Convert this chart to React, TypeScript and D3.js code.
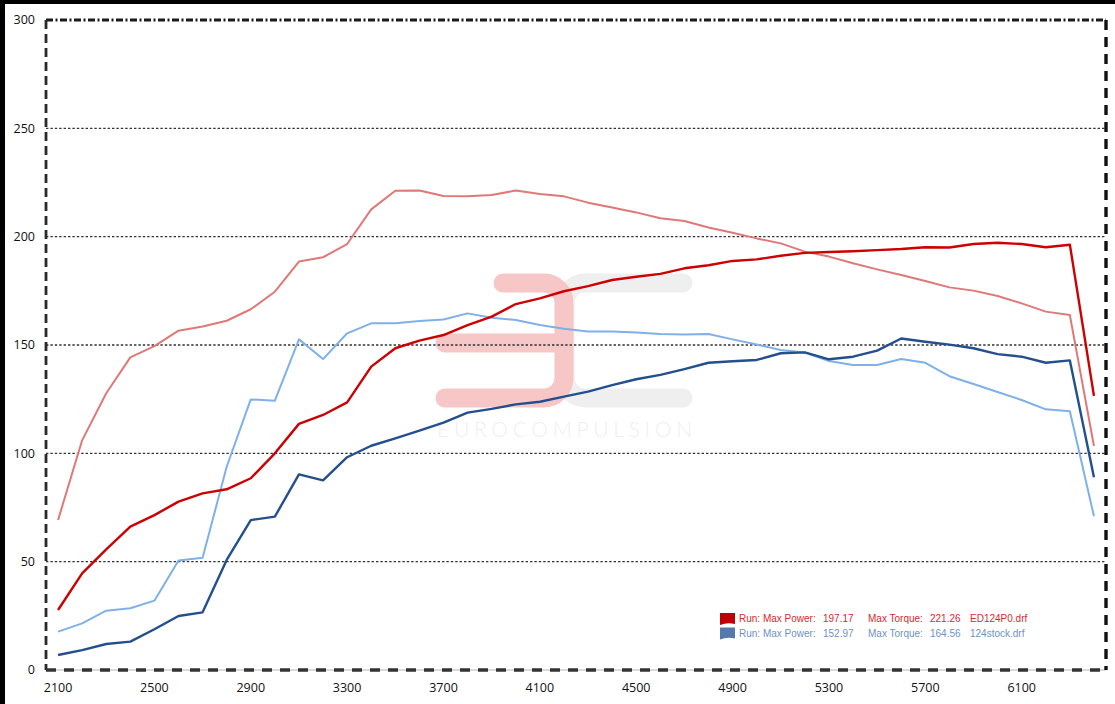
import React from 'react';
import * as d3 from 'd3';

// rpm categories (one point per 100 rpm)
const rpm = [
  2100, 2200, 2300, 2400, 2500, 2600, 2700, 2800, 2900, 3000,
  3100, 3200, 3300, 3400, 3500, 3600, 3700, 3800, 3900, 4000,
  4100, 4200, 4300, 4400, 4500, 4600, 4700, 4800, 4900, 5000,
  5100, 5200, 5300, 5400, 5500, 5600, 5700, 5800, 5900, 6000,
  6100, 6200, 6300, 6400,
];

const xTickLabels = [2100, 2500, 2900, 3300, 3700, 4100, 4500, 4900, 5300, 5700, 6100];
const yTickLabels = [0, 50, 100, 150, 200, 250, 300];

// ED124P0.drf
const powerTuned = [
  27.7, 44.6, 55.7, 66.2, 71.5, 77.7, 81.5, 83.4, 88.5, 100,
  113.6, 117.7, 123.5, 140, 148.5, 152, 154.6, 159.2, 163.1, 168.9,
  171.5, 174.8, 177.2, 180, 181.5, 182.8, 185.4, 186.8, 188.8, 189.5,
  191.2, 192.5, 192.9, 193.3, 193.8, 194.3, 195.1, 195, 196.6, 197.2,
  196.6, 195.1, 196.3, 126.5,
];
const torqueTuned = [
  69.2, 106, 127.7, 144.3, 149.5, 156.6, 158.5, 161.2, 166.5, 174.6,
  188.5, 190.5, 196.6, 212.6, 221.2, 221.3, 218.8, 218.6, 219.2, 221.3,
  219.7, 218.6, 215.7, 213.5, 211.2, 208.5, 207.2, 204.2, 201.8, 199.2,
  196.9, 193.1, 190.8, 187.7, 184.9, 182.3, 179.5, 176.6, 175.1, 172.6,
  169.2, 165.4, 163.8, 103.4,
];

// 124stock.drf
const powerStock = [
  6.9, 9.2, 12, 13.1, 18.8, 24.9, 26.6, 50.8, 69.2, 70.8,
  90.3, 87.5, 98.2, 103.5, 106.9, 110.5, 114.2, 118.8, 120.5, 122.6,
  123.8, 126.2, 128.5, 131.5, 134.2, 136.2, 138.9, 141.8, 142.5, 143.1,
  146.2, 146.6, 143.4, 144.6, 147.4, 153, 151.5, 150.2, 148.5, 145.8,
  144.6, 141.8, 142.9, 89,
];
const torqueStock = [
  17.7, 21.5, 27.4, 28.5, 32, 50.5, 51.8, 93.8, 124.9, 124.3,
  152.6, 143.5, 155.4, 160, 160, 161.1, 161.8, 164.6, 162.6, 161.5,
  159.2, 157.5, 156.2, 156.2, 155.8, 155.1, 154.9, 155.1, 152.6, 150.2,
  147.7, 146.5, 142.6, 140.8, 140.8, 143.5, 141.8, 135.6, 132, 128.3,
  124.6, 120.3, 119.4, 71,
];

const series = [
  { name: 'torqueTuned', values: torqueTuned, color: '#e07878', width: 2 },
  { name: 'torqueStock', values: torqueStock, color: '#7fb0ea', width: 2 },
  { name: 'powerStock', values: powerStock, color: '#234f8e', width: 2.4 },
  { name: 'powerTuned', values: powerTuned, color: '#cc0000', width: 2.4 },
];

const legendRows = [
  { power: '197.17', torque: '221.26', file: 'ED124P0.drf', swatch: '#c00000', text: '#d9282e' },
  { power: '152.97', torque: '164.56', file: '124stock.drf', swatch: '#5679ad', text: '#6f92c6' },
];

const W = 1115;
const H = 704;
const left = 46, right = 1106, top = 20, bottom = 670;

export default function App() {
  const x = d3.scaleBand<number>().domain(rpm).range([left, right]);
  const cx = (r: number) => (x(r) as number) + x.bandwidth() / 2;
  const y = d3.scaleLinear().domain([0, 300]).range([bottom, top]);

  const line = d3.line<number>()
    .x((_, i) => cx(rpm[i]))
    .y(d => y(d));

  const font = '"Open Sans", "Noto Sans", sans-serif';

  return (
    <svg width={W} height={H} style={{ position: 'fixed', left: 0, top: 0, background: '#fff' }}>
      <rect x={0} y={0} width={W} height={H} fill="#fff" />
      {/* outer black edge */}
      <rect x={0} y={0} width={W} height={4} fill="#000" />
      <rect x={0} y={0} width={5} height={H} fill="#000" />

      {/* watermark */}
      <g fill="none" strokeLinecap="round">
        <path d="M683,283 H585 A20,20 0 0 0 565,303 V378 A20,20 0 0 0 585,398 H683" stroke="#efefef" strokeWidth={19} />
        <path d="M503,283 H544 A20,20 0 0 1 564,303 V378 A20,20 0 0 1 544,398 H445 M445,343 H562" stroke="#f7c7c7" strokeWidth={19} />
      </g>
      <text x={437} y={437} fontFamily="Lato, sans-serif" fontWeight={300} fontSize={21}
        fill="#efefef" textLength={255} lengthAdjust="spacing">EUROCOMPULSION</text>

      {/* grid */}
      {yTickLabels.filter(t => t > 0 && t < 300).map(t => (
        <line key={t} x1={left} x2={right} y1={y(t)} y2={y(t)}
          stroke="#333" strokeWidth={1.4} strokeDasharray="2.4,2" />
      ))}

      {/* series */}
      {series.map(s => (
        <path key={s.name} d={line(s.values) as string} fill="none"
          stroke={s.color} strokeWidth={s.width} strokeLinejoin="round" />
      ))}

      {/* plot frame */}
      <line x1={left} x2={right} y1={top} y2={top} stroke="#1a1a1a" strokeWidth={2.8} strokeDasharray="7,2.5,2,2.5" />
      <line x1={left} x2={left} y1={top} y2={bottom} stroke="#2a2a2a" strokeWidth={2.8} strokeDasharray="9,5" />
      <line x1={left} x2={right} y1={bottom} y2={bottom} stroke="#b5b5b5" strokeWidth={1} />
      <line x1={left} x2={right} y1={bottom} y2={bottom} stroke="#333" strokeWidth={3.6} strokeDasharray="10,8" />
      <line x1={right} x2={right} y1={top} y2={bottom} stroke="#111" strokeWidth={3.4} strokeDasharray="10,7" />

      {/* y axis labels */}
      {yTickLabels.map(t => (
        <text key={t} x={35} y={y(t)} dy="0.35em" textAnchor="end" fontFamily={font}
          fontSize={12.5} fill="#111">{t}</text>
      ))}

      {/* x axis labels */}
      {xTickLabels.map(t => (
        <text key={t} x={cx(t)} y={688} dy="0.35em" textAnchor="middle" fontFamily={font}
          fontSize={12.5} fill="#111">{t}</text>
      ))}

      {/* legend */}
      {legendRows.map((r, i) => {
        const yb = 622 + i * 14.5;
        return (
          <g key={r.file} fontFamily='"Liberation Sans", Arial, sans-serif' fontSize={10} fill={r.text}>
            <path d={`M720,${yb - 9} H735 V${yb + 2} Q727,${yb} 720,${yb + 3} Z`} fill={r.swatch} />
            <text x={739} y={yb}>Run: Max Power:</text>
            <text x={823} y={yb}>{r.power}</text>
            <text x={868} y={yb}>Max Torque:</text>
            <text x={930} y={yb}>{r.torque}</text>
            <text x={970} y={yb}>{r.file}</text>
          </g>
        );
      })}
    </svg>
  );
}
